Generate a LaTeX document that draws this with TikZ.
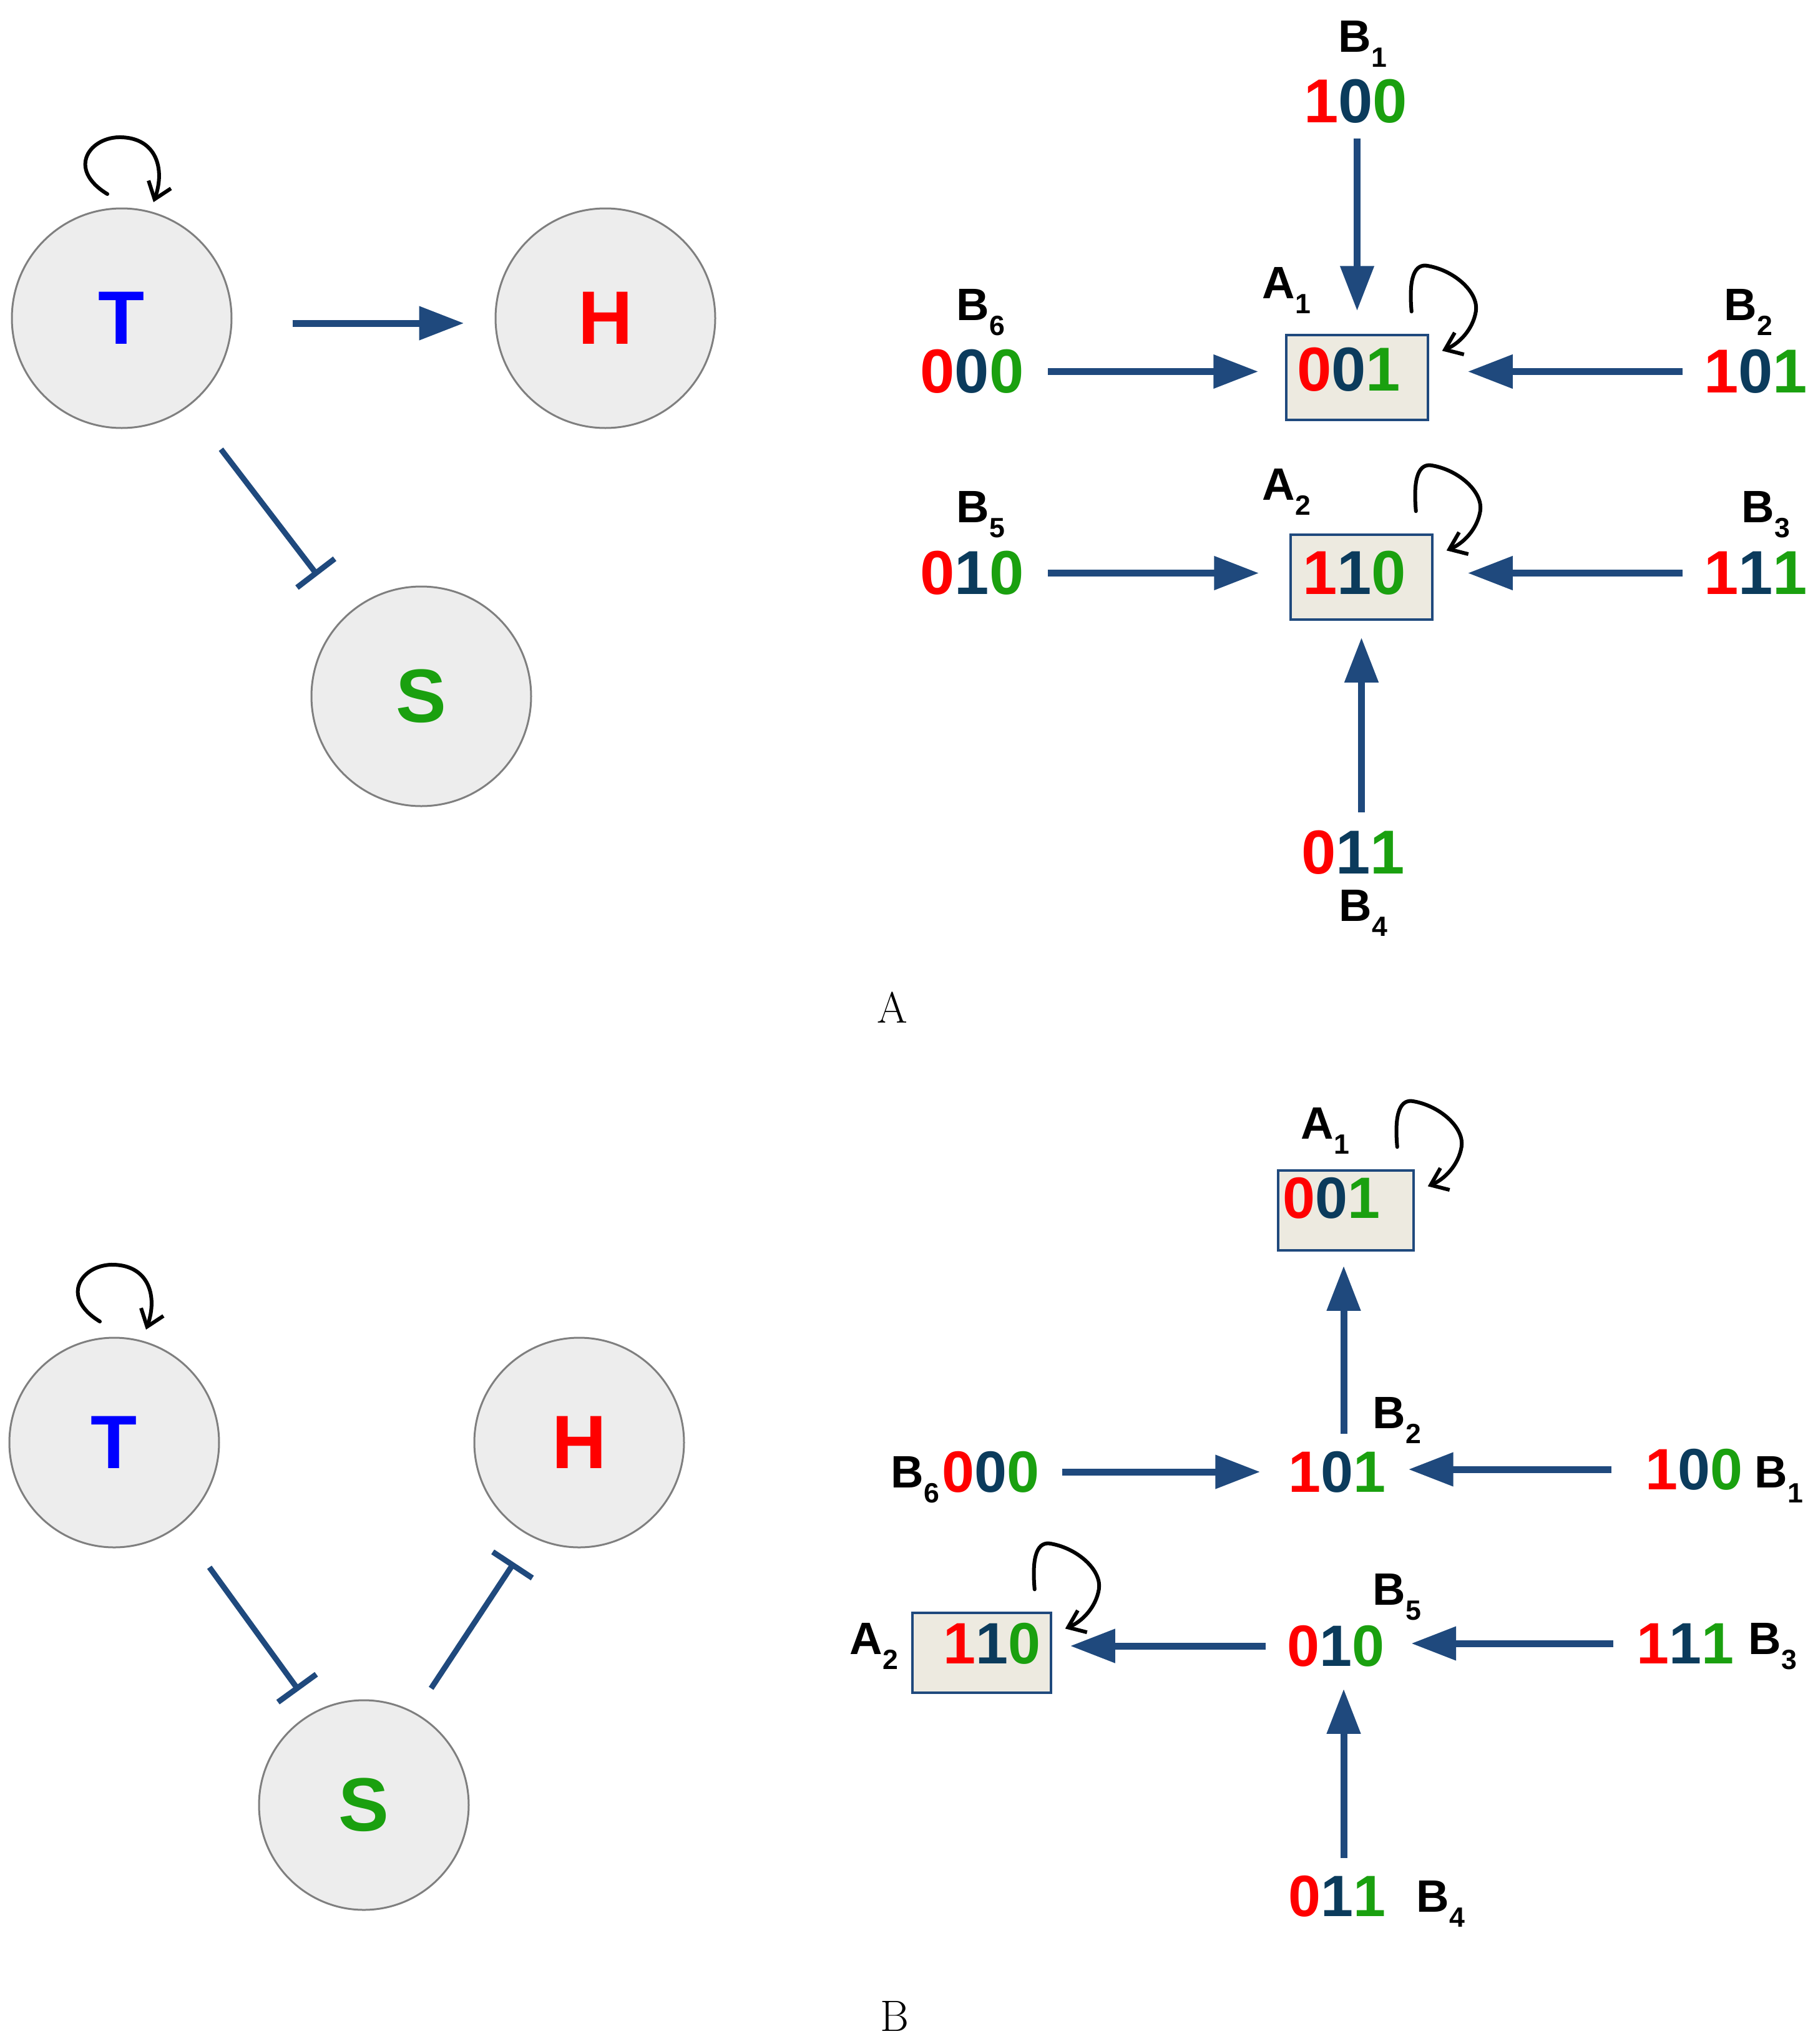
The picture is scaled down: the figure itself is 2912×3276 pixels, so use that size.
\documentclass[tikz,border=0pt]{standalone}
\usepackage{fontspec}
\newfontfamily\arialf{Liberation Sans}
\usetikzlibrary{arrows.meta,calc}
\definecolor{cred}{HTML}{FF0000}
\definecolor{cnavy}{HTML}{0B3B5C}
\definecolor{cgreen}{HTML}{1AA00F}
\definecolor{cblue}{HTML}{0000FF}
\definecolor{carrow}{HTML}{1F497D}
\definecolor{cboxfill}{HTML}{EDEAE0}
\definecolor{ccircfill}{HTML}{EDEDED}
\definecolor{ccircline}{HTML}{7F7F7F}
\newcommand\tri[3]{\textcolor{cred}{#1}\textcolor{cnavy}{#2}\textcolor{cgreen}{#3}}
\newcommand\sublbl[2]{#1\raisebox{-7.1pt}{\fontsize{12.7}{14}\selectfont #2}}
\newcommand\boxloop[1]{\draw[selfl] ($(#1.north east)+(-28,-36)$) .. controls ($(#1.north east)+(-33,-91)$) and ($(#1.north east)+(-23,-114)$) .. ($(#1.north east)+(-1,-109)$) .. controls ($(#1.north east)+(42,-101)$) and ($(#1.north east)+(80,-66)$) .. ($(#1.north east)+(75,-36)$) .. controls ($(#1.north east)+(70,-6)$) and ($(#1.north east)+(47,16)$) .. ($(#1.north east)+(21,27)$);}
\newcommand\circloop[2]{\draw[selfl] ($(#1)+(-23,-199+#2)$) .. controls ($(#1)+(-90,-240+#2)$) and ($(#1)+(-50,-292+#2)$) .. ($(#1)+(0,-290+#2)$) .. controls ($(#1)+(55,-288+#2)$) and ($(#1)+(70,-240+#2)$) .. ($(#1)+(51,-186+#2)$);}
\begin{document}
\begin{tikzpicture}[x=0.1mm,y=-0.1mm,
  circA/.style={circle, draw=ccircline, line width=0.3mm, fill=ccircfill, minimum size=35.2mm, inner sep=0, font=\arialf\bfseries\fontsize{34.5}{40}\selectfont},
  circB/.style={circA, minimum size=33.6mm},
  stbox/.style={draw=carrow, line width=0.35mm, fill=cboxfill, inner sep=0},
  bitsA/.style={inner sep=0, font=\arialf\bfseries\fontsize{28.3}{32}\selectfont},
  bitsB/.style={inner sep=0, font=\arialf\bfseries\fontsize{26.6}{30}\selectfont},
  lab/.style={inner sep=0, anchor=base west, font=\arialf\bfseries\fontsize{20.7}{24}\selectfont},
  captxt/.style={inner sep=0, anchor=base, font=\fontsize{20}{24}\selectfont},
  act/.style={draw=carrow, line width=1.1mm, -{Triangle[length=7.2mm,width=5.2mm]}},
  inh/.style={draw=carrow, line width=0.9mm, -{Bar[width=7.6mm]}},
  selfl/.style={draw=black, line width=0.6mm, line cap=round, -{Straight Barb[length=2.5mm,width=3.8mm]}}]
\useasboundingbox (0,0) rectangle (2912,3276);

% ---------------- Panel A, left ----------------
\node[circA, text=cblue] (TA) at (195,510) {T};
\node[circA, text=cred] (HA) at (970,510) {H};
\node[circA, text=cgreen] (SA) at (675,1116) {S};
\draw[act, shorten <=9.6mm, shorten >=4.9mm] ([yshift=-0.8mm]TA.east) -- ([yshift=-0.8mm]HA.west);
\draw[inh, shorten <=8.6mm, shorten >=7.8mm] (TA.307.6) -- (SA.132);
\circloop{TA}{0}

% ---------------- Panel A, right ----------------
\node[stbox, minimum width=22.7mm, minimum height=13.6mm] (A1A) at (2174.5,605) {};
\node[bitsA] (a1tA) at (2161,592.5) {\tri{0}{0}{1}};
\node[stbox, minimum width=22.7mm, minimum height=13.6mm] (A2A) at (2181.5,925) {};
\node[bitsA] (a2tA) at (2170,918.5) {\tri{1}{1}{0}};
\node[lab] (la1A) at (2022,478) {\sublbl{A}{1}};
\node[lab] (la2A) at (2022,801) {\sublbl{A}{2}};
\node[bitsA] (b1A) at (2172,162) {\tri{1}{0}{0}};
\node[lab] (lb1A) at (2144,83) {\sublbl{B}{1}};
\node[bitsA] (b6A) at (1557.5,595.5) {\tri{0}{0}{0}};
\node[lab] (lb6A) at (1532,513) {\sublbl{B}{6}};
\node[bitsA] (b2A) at (2813,595.5) {\tri{1}{0}{1}};
\node[lab] (lb2A) at (2762,513) {\sublbl{B}{2}};
\node[bitsA] (b5A) at (1557.5,918.5) {\tri{0}{1}{0}};
\node[lab] (lb5A) at (1532,837) {\sublbl{B}{5}};
\node[bitsA] (b3A) at (2813,918.5) {\tri{1}{1}{1}};
\node[lab] (lb3A) at (2790,837) {\sublbl{B}{3}};
\node[bitsA] (b4A) at (2168,1366.5) {\tri{0}{1}{1}};
\node[lab] (lb4A) at (2145,1476) {\sublbl{B}{4}};

\draw[act, shorten <=2.4mm, shorten >=3.7mm] (A1A.north |- b1A.south) -- (A1A.north);
\draw[act, shorten <=3.8mm, shorten >=4.3mm] (b6A.east) -- (b6A.east -| A1A.west);
\draw[act, shorten <=3.3mm, shorten >=6.2mm] (b2A.west) -- (b2A.west -| A1A.east);
\draw[act, shorten <=3.8mm, shorten >=4.9mm] (b5A.east) -- (b5A.east -| A2A.west);
\draw[act, shorten <=3.3mm, shorten >=5.5mm] (b3A.west) -- (b3A.west -| A2A.east);
\draw[act, shorten <=2.9mm, shorten >=2.7mm] (A2A.south |- b4A.north) -- (A2A.south);
\boxloop{A1A}
\boxloop{A2A}

\node[captxt] (capA) at (1430,1639) {A};

% ---------------- Panel B, left ----------------
\node[circB, text=cblue] (TB) at (183,2312) {T};
\node[circB, text=cred] (HB) at (928,2312) {H};
\node[circB, text=cgreen] (SB) at (583,2893) {S};
\draw[inh, shorten <=8.2mm, shorten >=4.2mm] (TB.308) -- (SB.118.9);
\draw[inh, shorten <=4.65mm, shorten >=4.96mm] (SB.61.9) -- (HB.243.7);
\circloop{TB}{5}

% ---------------- Panel B, right ----------------
\node[stbox, minimum width=21.7mm, minimum height=12.8mm] (A1B) at (2156.5,1940) {};
\node[bitsB] (a1tB) at (2133,1920.5) {\tri{0}{0}{1}};
\node[lab] (la1B) at (2084,1825) {\sublbl{A}{1}};
\node[bitsB] (b2B) at (2142,2359) {\tri{1}{0}{1}};
\node[lab] (lb2B) at (2199,2289) {\sublbl{B}{2}};
\node[bitsB] (b6B) at (1587,2359) {\tri{0}{0}{0}};
\node[lab] (lb6B) at (1427,2384) {\sublbl{B}{6}};
\node[bitsB] (b1B) at (2714.5,2355) {\tri{1}{0}{0}};
\node[lab] (lb1B) at (2811,2384) {\sublbl{B}{1}};
\node[stbox, minimum width=22.2mm, minimum height=12.8mm] (A2B) at (1573,2649) {};
\node[bitsB] (a2tB) at (1589.5,2634) {\tri{1}{1}{0}};
\node[lab] (la2B) at (1361,2651) {\sublbl{A}{2}};
\node[bitsB] (b5B) at (2140.5,2638) {\tri{0}{1}{0}};
\node[lab] (lb5B) at (2199,2572) {\sublbl{B}{5}};
\node[bitsB] (b3B) at (2700,2634) {\tri{1}{1}{1}};
\node[lab] (lb3B) at (2801,2651) {\sublbl{B}{3}};
\node[bitsB] (b4B) at (2142,3039) {\tri{0}{1}{1}};
\node[lab] (lb4B) at (2269,3064) {\sublbl{B}{4}};

\draw[act, shorten <=2.7mm, shorten >=2.3mm] ([xshift=1.1mm]b2B.north) -- ([xshift=1.1mm]b2B.north |- A1B.south);
\draw[act, shorten <=3.6mm, shorten >=4.4mm] (b6B.east) -- (b6B.east -| b2B.west);
\draw[act, shorten <=5.4mm, shorten >=3.6mm] (b1B.west) -- (b1B.west -| b2B.east);
\draw[act, shorten <=3.4mm, shorten >=2.9mm] (b5B.west) -- (b5B.west -| A2B.east);
\draw[act, shorten <=3.6mm, shorten >=4.2mm] (b3B.west) -- (b3B.west -| b5B.east);
\draw[act, shorten <=2.7mm, shorten >=3.5mm] ([xshift=1.1mm]b4B.north) -- ([xshift=1.1mm]b4B.north |- b5B.south);
\boxloop{A1B}
\boxloop{A2B}

\node[captxt] (capB) at (1433,3255) {B};
\end{tikzpicture}
\end{document}
